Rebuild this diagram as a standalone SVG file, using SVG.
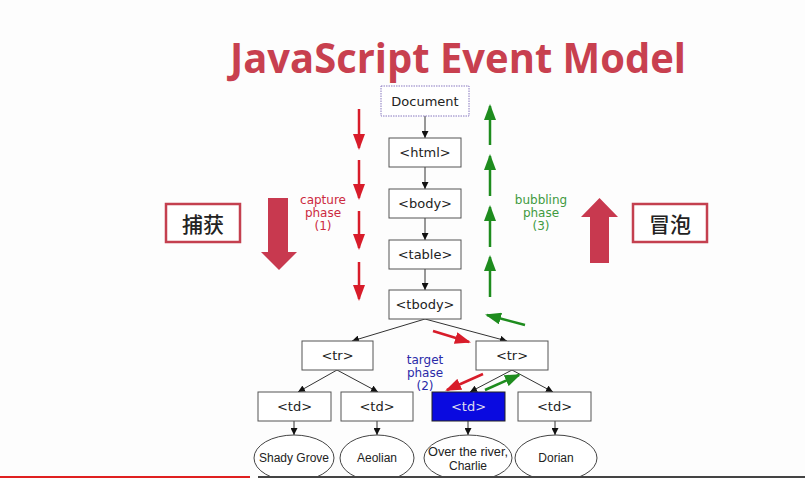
<svg xmlns="http://www.w3.org/2000/svg" width="805" height="478" viewBox="0 0 805 478">
<defs>
<style>
.box{fill:#fff;stroke:#555;stroke-width:1}
.lbl{font-family:"DejaVu Sans","Liberation Sans",sans-serif;font-size:13px;fill:#222;text-anchor:middle;dominant-baseline:central}
.el{fill:#fff;stroke:#444;stroke-width:1}
.elt{font-family:"Liberation Sans",Arial,sans-serif;font-size:12px;fill:#222;text-anchor:middle;dominant-baseline:central}
.con{stroke:#333;stroke-width:1;fill:none;marker-end:url(#ah)}
.red{stroke:#d81c2a;stroke-width:2.5;fill:none;marker-end:url(#rh)}
.grn{stroke:#1e8c1e;stroke-width:2.5;fill:none;marker-end:url(#gh)}
.ph{font-family:"DejaVu Sans","Liberation Sans",sans-serif;font-size:12px;text-anchor:middle}
.cn{fill:#fff;stroke:#c4404f;stroke-width:2.5}
.cnt{font-family:"Noto Sans CJK SC",sans-serif;font-size:21px;font-weight:500;fill:#222;text-anchor:middle;dominant-baseline:central}
</style>
<marker id="ah" viewBox="0 0 10 10" refX="10" refY="5" markerWidth="7" markerHeight="7" markerUnits="userSpaceOnUse" orient="auto"><path d="M0,0 L10,5 L0,10 z" fill="#111"/></marker>
<marker id="rh" viewBox="0 0 16 12" refX="14" refY="6" markerWidth="16" markerHeight="12" markerUnits="userSpaceOnUse" orient="auto"><path d="M0,0 L16,6 L0,12 z" fill="#d81c2a"/></marker>
<marker id="gh" viewBox="0 0 16 12" refX="14" refY="6" markerWidth="16" markerHeight="12" markerUnits="userSpaceOnUse" orient="auto"><path d="M0,0 L16,6 L0,12 z" fill="#1e8c1e"/></marker>
</defs>
<rect width="805" height="478" fill="#fdfdfd"/>
<text x="458" y="73" font-family="Open Sans, Liberation Sans, sans-serif" font-weight="bold" font-size="41" fill="#c8404f" text-anchor="middle" textLength="456" lengthAdjust="spacingAndGlyphs">JavaScript Event Model</text>

<g id="connectors">
<line class="con" x1="425" y1="116" x2="425" y2="138"/>
<line class="con" x1="425" y1="167" x2="425" y2="189"/>
<line class="con" x1="425" y1="218" x2="425" y2="240"/>
<line class="con" x1="425" y1="269" x2="425" y2="290"/>
<line class="con" x1="425" y1="319" x2="352" y2="341"/>
<line class="con" x1="425" y1="319" x2="507" y2="341"/>
<line class="con" x1="337" y1="370" x2="298" y2="392"/>
<line class="con" x1="337" y1="370" x2="378" y2="392"/>
<line class="con" x1="512" y1="370" x2="470" y2="392"/>
<line class="con" x1="512" y1="370" x2="553" y2="392"/>
<line class="con" x1="294" y1="421" x2="294" y2="435"/>
<line class="con" x1="377" y1="421" x2="377" y2="435"/>
<line class="con" x1="468" y1="421" x2="468" y2="435"/>
<line class="con" x1="555" y1="421" x2="555" y2="435"/>
</g>

<g id="capture-arrows">
<line class="red" x1="359" y1="109" x2="359" y2="148"/>
<line class="red" x1="359" y1="160" x2="359" y2="198"/>
<line class="red" x1="359" y1="211" x2="359" y2="248"/>
<line class="red" x1="359" y1="262" x2="359" y2="299"/>
<line class="red" x1="433" y1="331" x2="469" y2="342"/>
<line class="red" x1="483" y1="374" x2="447" y2="390"/>
</g>
<g id="bubble-arrows">
<line class="grn" x1="490" y1="145" x2="490" y2="106"/>
<line class="grn" x1="490" y1="196" x2="490" y2="156"/>
<line class="grn" x1="490" y1="247" x2="490" y2="207"/>
<line class="grn" x1="490" y1="297" x2="490" y2="257"/>
<line class="grn" x1="525" y1="325" x2="487" y2="315"/>
<line class="grn" x1="485" y1="390" x2="519" y2="375"/>
</g>

<g id="document"><rect x="381" y="86" width="88" height="30" fill="#fff" stroke="#8878c0" stroke-width="1" stroke-dasharray="1.5,1"/><text class="lbl" x="425" y="101">Document</text></g>
<g id="html"><rect class="box" x="389" y="138" width="72" height="29"/><text class="lbl" x="425" y="152.5">&lt;html&gt;</text></g>
<g id="body"><rect class="box" x="389" y="189" width="72" height="29"/><text class="lbl" x="425" y="203.5">&lt;body&gt;</text></g>
<g id="table"><rect class="box" x="389" y="240" width="72" height="29"/><text class="lbl" x="425" y="254.5">&lt;table&gt;</text></g>
<g id="tbody"><rect class="box" x="389" y="290" width="72" height="29"/><text class="lbl" x="425" y="304.5">&lt;tbody&gt;</text></g>
<g id="tr1"><rect class="box" x="302" y="341" width="71" height="29"/><text class="lbl" x="337.5" y="355.5">&lt;tr&gt;</text></g>
<g id="tr2"><rect class="box" x="476" y="341" width="72" height="29"/><text class="lbl" x="512" y="355.5">&lt;tr&gt;</text></g>
<g id="td1"><rect class="box" x="258" y="392" width="73" height="29"/><text class="lbl" x="294.5" y="406.5">&lt;td&gt;</text></g>
<g id="td2"><rect class="box" x="341" y="392" width="72" height="29"/><text class="lbl" x="377" y="406.5">&lt;td&gt;</text></g>
<g id="td3"><rect x="432" y="392" width="73" height="29" fill="#0a0ae0" stroke="#222" stroke-width="1"/><text class="lbl" x="468.5" y="406.5" style="fill:#dde">&lt;td&gt;</text></g>
<g id="td4"><rect class="box" x="518" y="392" width="73" height="29"/><text class="lbl" x="554.5" y="406.5">&lt;td&gt;</text></g>

<g id="shady"><ellipse class="el" cx="294" cy="458" rx="40" ry="23"/><text class="elt" x="294" y="458">Shady Grove</text></g>
<g id="aeolian"><ellipse class="el" cx="377" cy="458" rx="37" ry="23"/><text class="elt" x="377" y="458">Aeolian</text></g>
<g id="over"><ellipse class="el" cx="468" cy="458" rx="44" ry="23"/><text class="elt" x="468" y="452" textLength="80" lengthAdjust="spacingAndGlyphs">Over the river,</text><text class="elt" x="468" y="466">Charlie</text></g>
<g id="dorian"><ellipse class="el" cx="556" cy="458" rx="41" ry="23"/><text class="elt" x="556" y="458">Dorian</text></g>

<g id="capture-label" class="ph" fill="#cc2a40"><text x="323" y="204">capture</text><text x="323" y="217">phase</text><text x="323" y="230">(1)</text></g>
<g id="bubble-label" class="ph" fill="#3f9a3f"><text x="541" y="204">bubbling</text><text x="541" y="217">phase</text><text x="541" y="230">(3)</text></g>
<g id="target-label" class="ph" fill="#2a2aa8"><text x="425" y="364">target</text><text x="425" y="377">phase</text><text x="425" y="390">(2)</text></g>

<g id="capture-cn"><rect class="cn" x="166" y="204" width="74" height="38"/><text class="cnt" x="203" y="223">捕获</text></g>
<g id="bubble-cn"><rect class="cn" x="633" y="204" width="74" height="38"/><text class="cnt" x="670" y="223">冒泡</text></g>
<path id="down-arrow" d="M268,198 H288 V252 H297 L279,270 L261,252 H268 Z" fill="#c8394f"/>
<path id="up-arrow" d="M590,263 H609 V217 H618 L599.5,198 L581,217 H590 Z" fill="#c8394f"/>

<rect x="0" y="476" width="250" height="2" fill="#e02020"/>
<rect x="258" y="476" width="547" height="2" fill="#444"/>
</svg>
